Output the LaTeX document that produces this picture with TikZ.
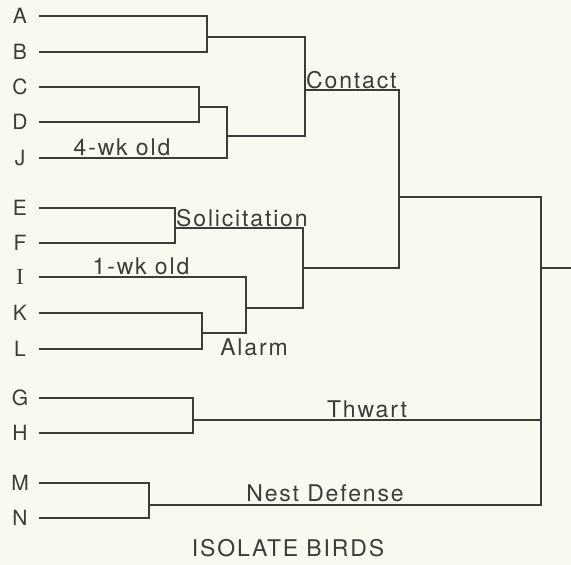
\documentclass[tikz,border=0pt]{standalone}
\usepackage{fontspec}
\setmainfont[LetterSpace=8]{TeX Gyre Heros}
\newfontfamily\serifI{Liberation Serif}
\definecolor{ink}{RGB}{62,60,56}
\definecolor{paper}{RGB}{249,249,240}
\tikzset{
  leaf/.style={minimum width=38pt, inner sep=0pt, font=\fontsize{21}{24}\selectfont, text=ink},
  lbl/.style={inner sep=1pt, font=\fontsize{23}{26}\selectfont, text=ink},
  branch/.style={draw=ink, line width=1.5pt}
}
\begin{document}
\begin{tikzpicture}[x=1pt, y=-1pt]
    % background and size
    \fill[paper] (0,0) rectangle (571,565);
    \useasboundingbox (0,0) rectangle (571,565);

    % the birds
    \node[leaf] (a) at (20,16) {A};
    \node[leaf] (b) at (20,52) {B};
    \node[leaf] (c) at (20,87) {C};
    \node[leaf] (d) at (20,122) {D};
    \node[leaf] (j) at (20,158) {J};
    \node[leaf] (e) at (20,208) {E};
    \node[leaf] (f) at (20,243) {F};
    \node[leaf] (i) at (20,277) {\serifI\fontsize{23}{25}\selectfont I};
    \node[leaf] (k) at (20,313) {K};
    \node[leaf] (l) at (20,349) {L};
    \node[leaf] (g) at (20,398) {G};
    \node[leaf] (h) at (20,433) {H};
    \node[leaf] (m) at (20,483) {M};
    \node[leaf] (n) at (20,518) {N};

    % the joins (here I just put coordinates to hang the branches on)
    \coordinate (ab) at (207,37);
    \coordinate (cd) at (199,107);
    \coordinate (cdj) at (227,136);
    \coordinate (abcdj) at (305,90);
    \coordinate (ef) at (175,228);
    \coordinate (kl) at (202,333);
    \coordinate (ikl) at (246,308);
    \coordinate (efikl) at (303,268);
    \coordinate (top) at (399,197);
    \coordinate (gh) at (193,420);
    \coordinate (mn) at (149,505);
    \coordinate (rt) at (541,268);
    \coordinate (tip) at (571,268);

    % draw the branches
    \draw[branch] (a) -| (ab) |- (b);
    \draw[branch] (c) -| (cd) |- (d);
    \draw[branch] (cd) -| (cdj) |- (j);
    \draw[branch] (ab) -| (abcdj) |- (cdj);
    \draw[branch] (e) -| (ef) |- (f);
    \draw[branch] (k) -| (kl) |- (l);
    \draw[branch] (i) -| (ikl) |- (kl);
    \draw[branch] (ef) -| (efikl) |- (ikl);
    \draw[branch] (abcdj) -| (top) |- (efikl);
    \draw[branch] (g) -| (gh) |- (h);
    \draw[branch] (m) -| (mn) |- (n);
    \draw[branch] (top) -| (rt) |- (mn);
    \draw[branch] (gh) -- (gh -| rt);
    \draw[branch] (rt) -- (tip);

    % the texts
    \node[lbl, anchor=south west] (contact) at (abcdj) {Contact};
    \node[lbl, anchor=south west] (solic) at (ef) {Solicitation};
    \node[lbl, anchor=south] (old4) at (122,157) {4-wk old};
    \node[lbl, anchor=south] (old1) at (141,276) {1-wk old};
    \node[lbl] (alarm) at (254,347) {Alarm};
    \node[lbl, anchor=south] (thwart) at (367,419) {Thwart};
    \node[lbl, anchor=south] (nest) at (325,503) {Nest Defense};
    \node[lbl] (title) at (288,548) {ISOLATE BIRDS};

\end{tikzpicture}
\end{document}
